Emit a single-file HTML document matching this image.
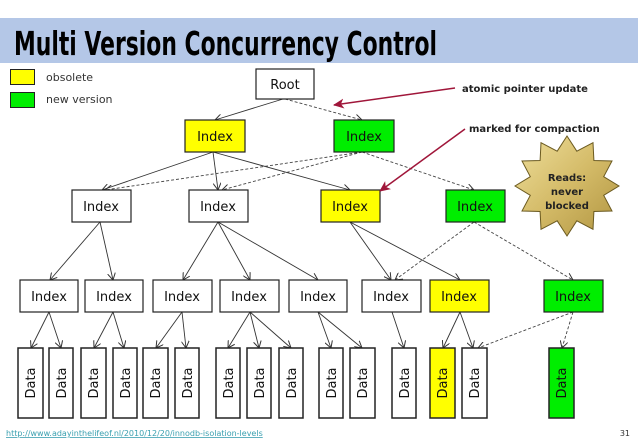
<!DOCTYPE html>
<html><head><meta charset="utf-8"><style>
html,body{margin:0;padding:0;background:#fff;width:638px;height:442px;overflow:hidden}
svg{display:block}
text{font-family:"DejaVu Sans","Liberation Sans",sans-serif}
</style></head><body>
<svg width="638" height="442" viewBox="0 0 638 442" xmlns="http://www.w3.org/2000/svg">
<defs>
<marker id="a" markerWidth="8" markerHeight="8" refX="7" refY="4" orient="auto" markerUnits="userSpaceOnUse"><path d="M0,0 L7,4 L0,8" fill="none" stroke="#333" stroke-width="1"/></marker>
<marker id="r" markerWidth="12" markerHeight="10" refX="10" refY="5" orient="auto" markerUnits="userSpaceOnUse"><path d="M0,0 L11,5 L0,10 L3,5z" fill="#a0163a"/></marker>
<linearGradient id="g" x1="0" y1="0" x2="1" y2="1"><stop offset="0" stop-color="#efdf9c"/><stop offset="0.5" stop-color="#d4bb68"/><stop offset="1" stop-color="#b09440"/></linearGradient>
</defs>
<rect x="0" y="18" width="638" height="45" fill="#b4c7e7"/>
<text x="14" y="55" font-family="Liberation Sans" font-weight="bold" font-size="33" textLength="423" lengthAdjust="spacingAndGlyphs" fill="#000">Multi Version Concurrency Control</text>
<rect x="10.5" y="69.5" width="24" height="15" fill="#ff0" stroke="#222"/>
<rect x="10.5" y="92.5" width="24" height="15" fill="#0e0" stroke="#222"/>
<text x="46" y="81" font-size="11" fill="#333">obsolete</text>
<text x="46" y="103" font-size="11" fill="#333">new version</text>

<g stroke="#333" stroke-width="0.9" fill="none" marker-end="url(#a)">
<line x1="283" y1="99" x2="215" y2="120"/>
<line x1="213" y1="152" x2="102" y2="190"/>
<line x1="213" y1="152" x2="218" y2="190"/>
<line x1="213" y1="152" x2="350" y2="190"/>
<line x1="100" y1="222" x2="50" y2="280"/>
<line x1="100" y1="222" x2="113" y2="280"/>
<line x1="218" y1="222" x2="183" y2="280"/>
<line x1="218" y1="222" x2="250" y2="280"/>
<line x1="218" y1="222" x2="318" y2="280"/>
<line x1="350" y1="222" x2="391" y2="280"/>
<line x1="350" y1="222" x2="460" y2="280"/>
<line x1="49" y1="312" x2="31" y2="348"/><line x1="49" y1="312" x2="61" y2="348"/>
<line x1="113" y1="312" x2="94" y2="348"/><line x1="113" y1="312" x2="124" y2="348"/>
<line x1="182" y1="312" x2="156" y2="348"/><line x1="182" y1="312" x2="186" y2="348"/>
<line x1="250" y1="312" x2="228" y2="348"/><line x1="250" y1="312" x2="259" y2="348"/><line x1="250" y1="312" x2="291" y2="348"/>
<line x1="318" y1="312" x2="331" y2="348"/><line x1="318" y1="312" x2="362" y2="348"/>
<line x1="392" y1="312" x2="404" y2="348"/>
<line x1="460" y1="312" x2="443" y2="348"/><line x1="460" y1="312" x2="473" y2="348"/>
</g>
<g stroke="#444" stroke-width="0.9" fill="none" stroke-dasharray="3,2" marker-end="url(#a)">
<line x1="285" y1="99" x2="362" y2="120"/>
<line x1="362" y1="152" x2="105" y2="190"/>
<line x1="362" y1="152" x2="222" y2="190"/>
<line x1="362" y1="152" x2="474" y2="190"/>
<line x1="474" y1="222" x2="395" y2="280"/>
<line x1="474" y1="222" x2="573" y2="280"/>
<line x1="573" y1="312" x2="478" y2="348"/>
<line x1="573" y1="312" x2="562" y2="348"/>
</g>

<g stroke="#222" stroke-width="1.2" font-size="13">
<rect x="256" y="69" width="58" height="30" fill="#fff"/>
<rect x="185" y="120" width="60" height="32" fill="#ff0"/>
<rect x="334" y="120" width="60" height="32" fill="#0e0"/>
<rect x="72" y="190" width="59" height="32" fill="#fff"/>
<rect x="189" y="190" width="59" height="32" fill="#fff"/>
<rect x="321" y="190" width="59" height="32" fill="#ff0"/>
<rect x="446" y="190" width="59" height="32" fill="#0e0"/>
<rect x="20" y="280" width="58" height="32" fill="#fff"/>
<rect x="85" y="280" width="58" height="32" fill="#fff"/>
<rect x="153" y="280" width="59" height="32" fill="#fff"/>
<rect x="220" y="280" width="59" height="32" fill="#fff"/>
<rect x="289" y="280" width="58" height="32" fill="#fff"/>
<rect x="362" y="280" width="59" height="32" fill="#fff"/>
<rect x="430" y="280" width="59" height="32" fill="#ff0"/>
<rect x="544" y="280" width="59" height="32" fill="#0e0"/>
</g>
<g font-size="13" fill="#111" text-anchor="middle">
<text x="285" y="89">Root</text>
<text x="215" y="141">Index</text><text x="364" y="141">Index</text>
<text x="101" y="211">Index</text><text x="218" y="211">Index</text><text x="350" y="211">Index</text><text x="475" y="211">Index</text>
<text x="49" y="301">Index</text><text x="114" y="301">Index</text><text x="182" y="301">Index</text><text x="249" y="301">Index</text><text x="318" y="301">Index</text><text x="391" y="301">Index</text><text x="459" y="301">Index</text><text x="573" y="301">Index</text>
</g>

<g stroke="#222" stroke-width="1.5">
<rect x="18" y="348" width="25" height="70" fill="#fff"/>
<rect x="49" y="348" width="24" height="70" fill="#fff"/>
<rect x="81" y="348" width="25" height="70" fill="#fff"/>
<rect x="113" y="348" width="24" height="70" fill="#fff"/>
<rect x="143" y="348" width="25" height="70" fill="#fff"/>
<rect x="175" y="348" width="24" height="70" fill="#fff"/>
<rect x="216" y="348" width="24" height="70" fill="#fff"/>
<rect x="247" y="348" width="24" height="70" fill="#fff"/>
<rect x="279" y="348" width="24" height="70" fill="#fff"/>
<rect x="319" y="348" width="24" height="70" fill="#fff"/>
<rect x="350" y="348" width="25" height="70" fill="#fff"/>
<rect x="392" y="348" width="24" height="70" fill="#fff"/>
<rect x="430" y="348" width="25" height="70" fill="#ff0"/>
<rect x="462" y="348" width="25" height="70" fill="#fff"/>
<rect x="549" y="348" width="25" height="70" fill="#0e0"/>
</g>
<g font-size="13" fill="#111" text-anchor="middle">
<text transform="translate(35,383) rotate(-90)">Data</text>
<text transform="translate(66,383) rotate(-90)">Data</text>
<text transform="translate(98,383) rotate(-90)">Data</text>
<text transform="translate(130,383) rotate(-90)">Data</text>
<text transform="translate(160,383) rotate(-90)">Data</text>
<text transform="translate(192,383) rotate(-90)">Data</text>
<text transform="translate(233,383) rotate(-90)">Data</text>
<text transform="translate(264,383) rotate(-90)">Data</text>
<text transform="translate(296,383) rotate(-90)">Data</text>
<text transform="translate(336,383) rotate(-90)">Data</text>
<text transform="translate(367,383) rotate(-90)">Data</text>
<text transform="translate(409,383) rotate(-90)">Data</text>
<text transform="translate(447,383) rotate(-90)">Data</text>
<text transform="translate(479,383) rotate(-90)">Data</text>
<text transform="translate(566,383) rotate(-90)">Data</text>
</g>

<line x1="455" y1="88" x2="334" y2="105" stroke="#a0163a" stroke-width="1.5" marker-end="url(#r)"/>
<line x1="465" y1="129" x2="380" y2="191" stroke="#a0163a" stroke-width="1.5" marker-end="url(#r)"/>
<text x="462" y="92" font-size="10" font-weight="bold" fill="#222">atomic pointer update</text>
<text x="469" y="132" font-size="10" font-weight="bold" fill="#222">marked for compaction</text>

<polygon points="567,136 576.8,151.2 593,142.7 593.9,160.5 612,161 603.7,176.7 619,186 603.7,195.3 612,211 593.9,211.5 593,229.3 576.8,220.8 567,236 557.2,220.8 541,229.3 540.1,211.5 522,211 530.3,195.3 515,186 530.3,176.7 522,161 540.1,160.5 541,142.7 557.2,151.2" fill="url(#g)" stroke="#6b5a20" stroke-width="1"/>
<g font-size="10" font-weight="bold" fill="#222" text-anchor="middle">
<text x="567" y="181">Reads:</text><text x="567" y="195">never</text><text x="567" y="209">blocked</text>
</g>
<text x="6" y="436" font-family="Liberation Serif" font-size="8" fill="#3aa0b0" text-decoration="underline">http://www.adayinthelifeof.nl/2010/12/20/innodb-isolation-levels</text>
<text x="630" y="436" font-family="Liberation Sans" font-size="8" fill="#333" text-anchor="end">31</text>
</svg>
</body></html>
